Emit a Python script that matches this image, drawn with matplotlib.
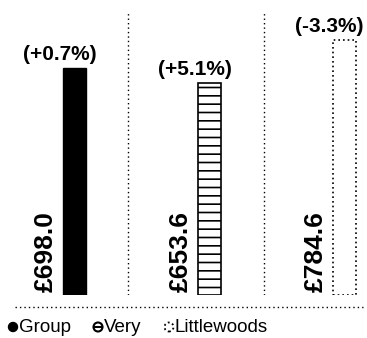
import matplotlib.pyplot as plt
from matplotlib.lines import Line2D
from matplotlib.patches import Ellipse

# data
brands = ['Group', 'Very', 'Littlewoods']
sales = [698.0, 653.6, 784.6]
changes = ['(+0.7%)', '(+5.1%)', '(-3.3%)']
value_labels = ['£698.0', '£653.6', '£784.6']

plt.rcParams['font.family'] = ['Liberation Sans', 'DejaVu Sans']
plt.rcParams['hatch.linewidth'] = 1.2

W, H = 367, 338
fig = plt.figure(figsize=(W / 100, H / 100), dpi=100)
# axes: baseline at 43px from bottom, full width
ax = fig.add_axes([0, 43 / H, 1, 295 / H])
ax.set_xlim(-74.5 / 135, (W - 74.5) / 135)
ax.set_ylim(0, 295 / 0.3245)
ax.axis('off')

x = range(len(brands))
width = 23 / 135
styles = [
    dict(color='black', edgecolor='black', linewidth=1),
    dict(color='white', edgecolor='black', hatch='--', linewidth=1.2),
    dict(color='white', edgecolor='black', linestyle=(0, (1, 1.8)), linewidth=1.2),
]
for i in x:
    ax.bar(i, sales[i], width=width, **styles[i])
    ax.text(i - 0.215, 8, value_labels[i], rotation=90, ha='center', va='bottom',
            fontsize=19, fontweight='bold')
    ax.annotate(changes[i], (i - 0.11, sales[i]), xytext=(0, 3),
                textcoords='offset points', ha='center', va='bottom',
                fontsize=15, fontweight='bold', annotation_clip=False)

# dotted separators
for sx in [0.396, 1.404]:
    ax.axvline(sx, ymin=0, ymax=(295 - 13) / 295, color='black', linewidth=1,
               linestyle=(0, (1, 2.2)))

# horizontal dotted rule under the bars
fig.add_artist(Line2D([15 / W, 363 / W], [1 - 307 / H, 1 - 307 / H],
                      transform=fig.transFigure, color='black', linewidth=1,
                      linestyle=(0, (1, 2.2))))

# legend (hand-drawn icons + labels)
ly = 1 - 327 / H
icon_x = [13, 98, 169]
d = 9
# Group: filled circle
fig.add_artist(Ellipse((icon_x[0] / W, ly), d / W, d / H, transform=fig.transFigure,
                       facecolor='black', edgecolor='black', linewidth=1))
# Very: circle with bar
fig.add_artist(Ellipse((icon_x[1] / W, ly), d / W, d / H, transform=fig.transFigure,
                       facecolor='white', edgecolor='black', linewidth=1.5))
fig.add_artist(Line2D([(icon_x[1] - 4) / W, (icon_x[1] + 4) / W], [ly, ly],
                      transform=fig.transFigure, color='black', linewidth=1.5))
# Littlewoods: dotted circle
fig.add_artist(Ellipse((icon_x[2] / W, ly), d / W, d / H, transform=fig.transFigure,
                       facecolor='white', edgecolor='black', linewidth=1.3,
                       linestyle=(0, (1, 1.5))))
for i, name in enumerate(brands):
    fig.text((icon_x[i] + 6) / W, ly, name, ha='left', va='center', fontsize=13.5)

fig.savefig('out.png', dpi=100)
